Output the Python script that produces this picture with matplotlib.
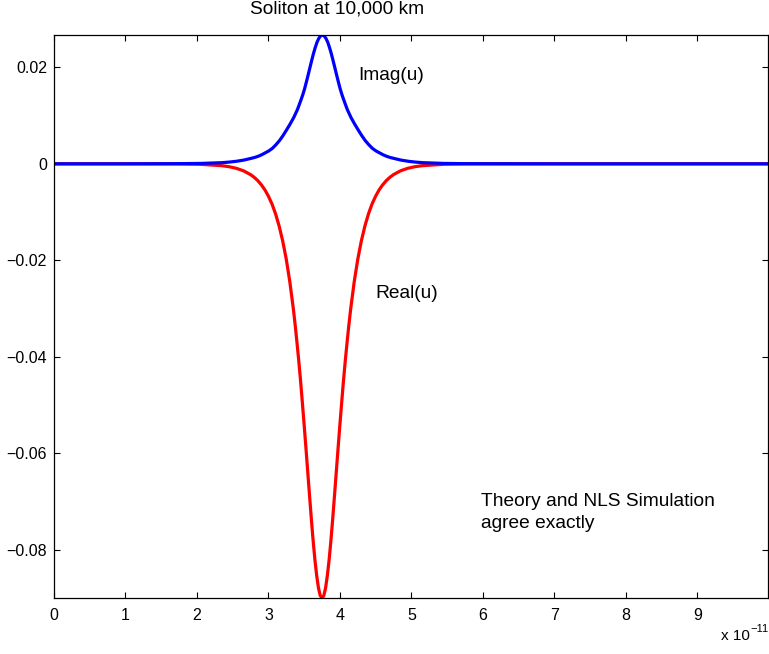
import numpy as np
import matplotlib
matplotlib.use("Agg")
from matplotlib import pyplot as plt

plt.rcParams['font.family'] = ['Liberation Sans', 'DejaVu Sans']
plt.rcParams['axes.unicode_minus'] = True

# time axis in units of 1e-11 s
t_real = [0.0, 1.0, 1.75, 2.05, 2.35, 2.45, 2.55, 2.65, 2.75, 2.80, 2.85, 2.90,
          2.95, 3.00, 3.05, 3.10, 3.15, 3.20, 3.25, 3.30, 3.35, 3.375, 3.40, 3.425,
          3.45, 3.475, 3.50, 3.525, 3.55, 3.575, 3.60, 3.625, 3.65, 3.675, 3.70,
          3.725, 3.75,
          3.775, 3.80, 3.825, 3.85, 3.875, 3.90, 3.925, 3.95, 3.975, 4.00, 4.025,
          4.05, 4.075, 4.10, 4.125, 4.15, 4.20, 4.25, 4.30, 4.35, 4.40, 4.45,
          4.50, 4.55, 4.60, 4.65, 4.70, 4.75, 4.85, 4.95, 5.05, 5.15, 5.45, 5.75,
          7.0, 10.0]
real_u = [0.0, 0.0, -0.000028, -0.000104, -0.00039, -0.00060, -0.00093, -0.00144,
          -0.00224, -0.00279, -0.00347, -0.00433, -0.00538, -0.00671, -0.00833,
          -0.01037, -0.0129, -0.0160, -0.0198, -0.0245, -0.0302, -0.0335, -0.0371,
          -0.0409, -0.0450, -0.0495, -0.0541, -0.0589, -0.0638, -0.0687, -0.0735,
          -0.0780, -0.0820, -0.0853, -0.0879, -0.0895, -0.0900,
          -0.0895, -0.0879, -0.0853, -0.0820, -0.0780, -0.0735, -0.0687, -0.0638,
          -0.0589, -0.0541, -0.0495, -0.0450, -0.0409, -0.0371, -0.0335, -0.0302,
          -0.0245, -0.0198, -0.0160, -0.0129, -0.01037, -0.00833, -0.00671,
          -0.00538, -0.00433, -0.00347, -0.00279, -0.00224, -0.00144, -0.00093,
          -0.00060, -0.00039, -0.000104, -0.000028, 0.0, 0.0]

t_imag = [0.0, 1.0, 1.755, 2.055, 2.355, 2.455, 2.555, 2.655, 2.755, 2.805, 2.855,
          2.905, 2.955, 3.005, 3.055, 3.105, 3.155, 3.205, 3.255, 3.305, 3.355,
          3.38, 3.405, 3.43, 3.455, 3.48, 3.505, 3.53, 3.555, 3.58, 3.605, 3.63,
          3.655, 3.68, 3.705, 3.73, 3.755,
          3.78, 3.805, 3.83, 3.855, 3.88, 3.905, 3.93, 3.955, 3.98, 4.005, 4.03,
          4.055, 4.08, 4.105, 4.13, 4.155, 4.205, 4.255, 4.305, 4.355, 4.405,
          4.455, 4.505, 4.555, 4.605, 4.655, 4.705, 4.755, 4.855, 4.955, 5.055,
          5.155, 5.455, 5.755, 7.0, 10.0]
imag_u = [0.0, 0.0, 0.00003, 0.00008, 0.00024, 0.00036, 0.00053, 0.00077, 0.00112,
          0.00131, 0.00155, 0.00187, 0.00227, 0.00267, 0.0032, 0.00395, 0.00481,
          0.00587, 0.00705, 0.00828, 0.00961, 0.01041, 0.01121, 0.0122, 0.01322,
          0.01428, 0.01549, 0.0169, 0.01837, 0.01989, 0.02139, 0.02283, 0.0241,
          0.0252, 0.0260, 0.02651, 0.0267,
          0.02651, 0.0260, 0.0252, 0.0241, 0.02283, 0.02139, 0.01989, 0.01837,
          0.0169, 0.01549, 0.01428, 0.01322, 0.0122, 0.01121, 0.01041, 0.00961,
          0.00828, 0.00705, 0.00587, 0.00481, 0.00395, 0.0032, 0.00267, 0.00227,
          0.00187, 0.00155, 0.00131, 0.00112, 0.00077, 0.00053, 0.00036, 0.00024,
          0.00008, 0.00003, 0.0, 0.0]

xticks = [0, 1, 2, 3, 4, 5, 6, 7, 8, 9]
yticks = [0.02, 0.0, -0.02, -0.04, -0.06, -0.08]
ytick_labels = ['0.02', '0', '\u22120.02', '\u22120.04', '\u22120.06', '\u22120.08']

fig = plt.figure(figsize=(7.69, 6.54), dpi=100)
ax = fig.add_axes([54 / 769, 1 - 598 / 654, 714 / 769, 563 / 654])

ax.plot(np.array(t_real) * 1e-11, real_u, color='#ff0000', lw=2.3, solid_capstyle='round')
ax.plot(np.array(t_imag) * 1e-11, imag_u, color='#0000ff', lw=2.3, solid_capstyle='round')

ax.set_xlim(0, 9.99e-11)
ax.set_ylim(-0.09, 0.0267)

ax.set_xticks(np.array(xticks) * 1e-11)
ax.set_xticklabels([str(v) for v in xticks])
ax.set_yticks(yticks)
ax.set_yticklabels(ytick_labels)
ax.tick_params(direction='in', length=4.5, width=0.8, labelsize=11.5,
               top=True, right=True, colors='black')
ax.tick_params(axis='x', pad=7)
ax.tick_params(axis='y', pad=5)
for s in ax.spines.values():
    s.set_linewidth(0.9)

# texts
fig.text(250 / 769, 1 - 9 / 654, 'Soliton at 10,000 km', ha='left', va='center', fontsize=13.8)
fig.text(358 / 769, 1 - 75 / 654, 'Imag(u)', ha='left', va='center', fontsize=13.8)
fig.text(375 / 769, 1 - 294 / 654, 'Real(u)', ha='left', va='center', fontsize=13.8)
fig.text(481 / 769, 1 - 502 / 654, 'Theory and NLS Simulation', ha='left', va='center', fontsize=13.8)
fig.text(481 / 769, 1 - 523 / 654, 'agree exactly', ha='left', va='center', fontsize=13.8)
fig.text(721 / 769, 1 - 636 / 654, 'x 10', ha='left', va='center', fontsize=11)
fig.text(750 / 769, 1 - 629 / 654, '\u221211', ha='left', va='center', fontsize=8)

fig.savefig('out.png', dpi=100)
